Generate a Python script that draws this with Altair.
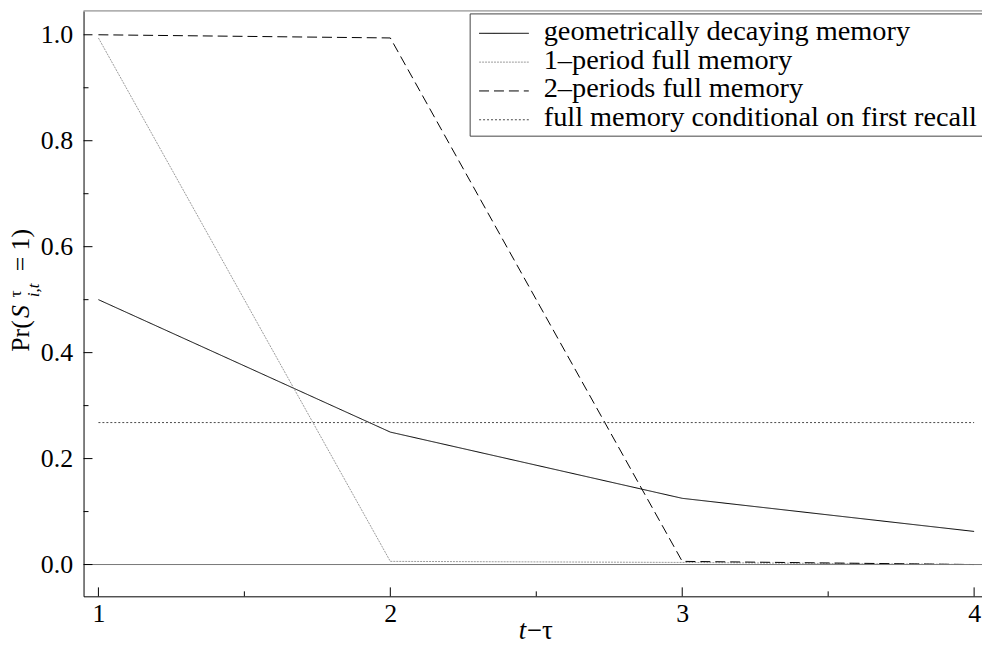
import altair as alt
import pandas as pd

# ---- data ----
x_vals = [1, 2, 3, 4]
series_names = [
    "geometrically decaying memory",
    "1–period full memory",
    "2–periods full memory",
    "full memory conditional on first recall",
]
geometric = [0.5, 0.25, 0.125, 0.0625]
one_period = [0.994, 0.006, 0.004, 0.0]
two_periods = [1.0, 0.994, 0.006, 0.0]
conditional = [0.268, 0.268, 0.268, 0.268]

x_ticks = [1, 2, 3, 4]
x_minor = [1.5, 2.5, 3.5]
y_ticks = [0.0, 0.2, 0.4, 0.6, 0.8, 1.0]
y_minor = [0.1, 0.3, 0.5, 0.7, 0.9]

colors = ["#000000", "#9a9a9a", "#000000", "#4a4a4a"]
dashes = [[1, 0], [2, 1], [10, 5], [2, 2]]

rows = []
for name, vals in zip(series_names, [geometric, one_period, two_periods, conditional]):
    for xv, yv in zip(x_vals, vals):
        rows.append({"t": xv, "p": yv, "series": name})
df = pd.DataFrame(rows)

XD = [0.949, 4.027]
YD = [-0.06, 1.045]
W, H = 904, 589
FONT = "Liberation Serif"

xs = alt.Scale(domain=XD, zero=False, nice=False)
ys = alt.Scale(domain=YD, zero=False, nice=False)

lines = alt.Chart(df).mark_line(strokeWidth=1).encode(
    x=alt.X("t:Q", scale=xs, title=None, axis=alt.Axis(
        values=x_ticks, format="d", ticks=False, tickSize=0, grid=False,
        domainColor="black", domainWidth=1, labelFont=FONT, labelFontSize=26,
        labelColor="black", labelPadding=4)),
    y=alt.Y("p:Q", scale=ys, title=None, axis=alt.Axis(
        values=y_ticks, format=".1f", ticks=False, tickSize=0, grid=False,
        domainColor="black", domainWidth=1, labelFont=FONT, labelFontSize=26,
        labelColor="black", labelPadding=11)),
    color=alt.Color("series:N", scale=alt.Scale(domain=series_names, range=colors), legend=None),
    strokeDash=alt.StrokeDash("series:N", scale=alt.Scale(domain=series_names, range=dashes), legend=None),
)

one = alt.InlineData(values=[{"a": 0}])

zero_rule = alt.Chart(one).mark_rule(color="#777", strokeWidth=1).encode(
    y=alt.Y("z:Q", scale=ys, title=None)
).transform_calculate(z="0")

top_rule = alt.Chart(one).mark_rule(color="#777", strokeWidth=1).encode(
    y=alt.Y("z:Q", scale=ys, title=None)
).transform_calculate(z=str(YD[1]))

ytick_major = alt.Chart(pd.DataFrame({"v": y_ticks})).mark_rule(color="black").encode(
    y=alt.Y("v:Q", scale=ys, title=None), x=alt.value(0), x2=alt.value(9))
ytick_minor = alt.Chart(pd.DataFrame({"v": y_minor})).mark_rule(color="black").encode(
    y=alt.Y("v:Q", scale=ys, title=None), x=alt.value(0), x2=alt.value(5))
xtick_major = alt.Chart(pd.DataFrame({"v": x_ticks})).mark_rule(color="black").encode(
    x=alt.X("v:Q", scale=xs, title=None), y=alt.value(H), y2=alt.value(H - 9))
xtick_minor = alt.Chart(pd.DataFrame({"v": x_minor})).mark_rule(color="black").encode(
    x=alt.X("v:Q", scale=xs, title=None), y=alt.value(H), y2=alt.value(H - 5))


def label(text, x, y, size=26, style="normal", angle=0):
    return alt.Chart(one).mark_text(
        text=text, font=FONT, fontSize=size, fontStyle=style, color="black",
        align="left", baseline="alphabetic", angle=angle,
    ).encode(x=alt.value(x), y=alt.value(y))


# ---- legend (boxed, top right) ----
LEG_X, LEG_Y0, LEG_Y1 = 389, 3, 126
ROW0, ROW_STEP = 29, 29
legend_parts = [
    alt.Chart(one).mark_rect(fill="white", stroke="#444", strokeWidth=1).encode(
        x=alt.value(LEG_X), x2=alt.value(W + 2), y=alt.value(LEG_Y0), y2=alt.value(LEG_Y1))
]
for i, (name, col, dash) in enumerate(zip(series_names, colors, dashes)):
    base = ROW0 + i * ROW_STEP
    legend_parts.append(
        alt.Chart(one).mark_rule(color=col, strokeDash=dash, strokeWidth=1).encode(
            x=alt.value(398), x2=alt.value(448), y=alt.value(base - 6.5))
    )
    legend_parts.append(label(name, 463, base, size=28.5))

# y-axis title: Pr(S^τ_{i,t}=1), rotated
ytitle = [
    label("Pr(", -55, 343, angle=270),
    label("S", -55, 309, style="italic", angle=270),
    label("τ", -63, 288, size=17, angle=270),
    label("i,t", -45, 288, size=17, style="italic", angle=270),
    label("=", -55, 262, angle=270),
    label("1)", -55, 241, angle=270),
]
# x-axis title: t−τ
xtitle = [
    label("t", 438, 632, size=27, style="italic"),
    label("−τ", 446, 632, size=27),
]

chart = alt.layer(
    lines, zero_rule, top_rule, ytick_major, ytick_minor, xtick_major, xtick_minor,
    *legend_parts, *ytitle, *xtitle,
).properties(
    width=W, height=H,
    autosize=alt.AutoSizeParams(type="none"),
    padding={"left": 76, "top": 1, "right": 0, "bottom": 44},
).configure_view(stroke=None)

chart.save("out.html", embed_options={"renderer": "svg", "actions": False})
